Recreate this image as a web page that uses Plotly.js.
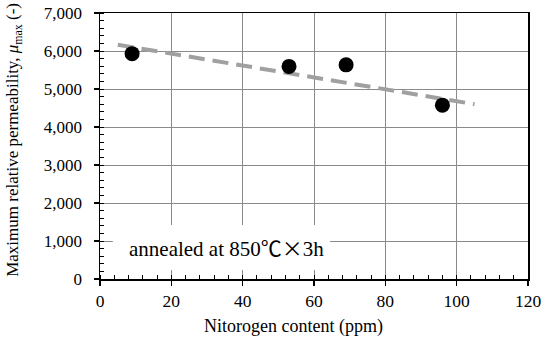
<!DOCTYPE html>
<html>
<head>
<meta charset="utf-8">
<script src="https://cdn.plot.ly/plotly-3.0.1.min.js"></script>
<style>html,body{margin:0;padding:0;background:#fff;}#chart{width:547px;height:338px;}</style>
</head>
<body>
<div id="chart"></div>
<script>
// Data
const nitrogenPpm = [9, 53, 69, 96];
const muMax = [5930, 5595, 5635, 4575];
// Linear trendline endpoints as drawn in the reference
const trendX = [5, 105];
const trendY = [6165, 4600];
const xTitle = 'Nitorogen content (ppm)';
const yTitle = 'Maximum relative permeability, <i>\u03bc</i><sub>max</sub> (-)';
const annotationText = 'annealed at 850<span style="font-family:\'Noto Sans CJK JP\'">\u2103\u00d7</span>3h';

const serif = 'Liberation Serif';

const traces = [
  {
    x: trendX, y: trendY, type: 'scatter', mode: 'lines',
    line: {color: '#a0a0a0', width: 4, dash: '16px,8px'},
    hoverinfo: 'skip', showlegend: false
  },
  {
    x: nitrogenPpm, y: muMax, type: 'scatter', mode: 'markers',
    marker: {color: '#000', size: 15},
    showlegend: false
  }
];

const layout = {
  width: 547, height: 338,
  margin: {l: 100, r: 19, t: 13, b: 59},
  paper_bgcolor: '#fff', plot_bgcolor: '#fff',
  font: {family: serif, color: '#000', size: 16},
  showlegend: false,
  xaxis: {
    range: [0, 120], dtick: 20, tick0: 0,
    showgrid: true, gridcolor: '#8a8a8a', gridwidth: 1,
    zeroline: false,
    showline: true, linecolor: '#000', linewidth: 1.5, mirror: true,
    ticks: 'outside', ticklen: 5, tickcolor: '#000', tickwidth: 1.5,
    minor: {dtick: 4, ticks: 'inside', ticklen: 4, tickcolor: '#000', tickwidth: 1, showgrid: false},
    tickfont: {family: serif, size: 17.5, color: '#000'}
  },
  yaxis: {
    range: [0, 7000], dtick: 1000, tick0: 0, tickformat: ',d',
    showgrid: true, gridcolor: '#8a8a8a', gridwidth: 1,
    zeroline: false,
    showline: true, linecolor: '#000', linewidth: 1.5, mirror: true,
    ticks: 'outside', ticklen: 5, tickcolor: '#000', tickwidth: 1.5,
    minor: {dtick: 200, ticks: 'inside', ticklen: 4, tickcolor: '#000', tickwidth: 1, showgrid: false},
    tickfont: {family: serif, size: 17, color: '#000'},
    ticklabelstandoff: 8
  },
  shapes: [{
    type: 'rect', layer: 'between', xref: 'x', yref: 'y',
    x0: 3.6, x1: 64.5, y0: 240, y1: 1420,
    fillcolor: '#fff', line: {width: 0}
  }],
  annotations: [
    {
      xref: 'x', yref: 'y', x: 7.6, y: 830, xanchor: 'left',
      text: annotationText, showarrow: false,
      font: {family: serif, size: 21, color: '#000'}
    },
    {
      xref: 'paper', yref: 'paper', x: 0.451, y: -0.177, xanchor: 'center', yanchor: 'middle',
      text: xTitle, showarrow: false,
      font: {family: serif, size: 18, color: '#000'}
    },
    {
      xref: 'paper', yref: 'paper', x: -0.201, y: 0.523, xanchor: 'center', yanchor: 'middle',
      text: yTitle, showarrow: false, textangle: -90,
      font: {family: serif, size: 17, color: '#000'}
    }
  ]
};

Plotly.newPlot('chart', traces, layout, {displayModeBar: false, staticPlot: true});
</script>
</body>
</html>
